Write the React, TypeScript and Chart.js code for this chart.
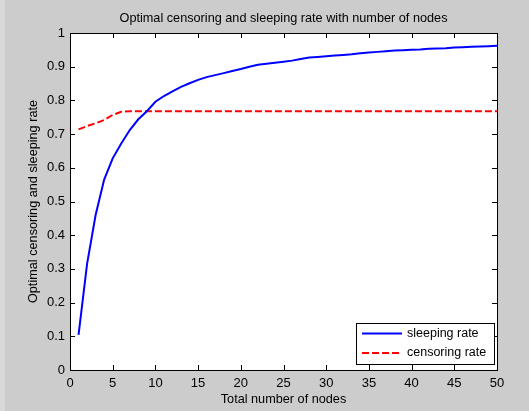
import React, { useEffect, useRef } from "react";
import { Chart, registerables } from "chart.js";

Chart.register(...registerables);

const nodes: number[] = Array.from({ length: 50 }, (_, i) => i + 1);

const sleepingRate: number[] = [
  0.104, 0.315, 0.46, 0.565, 0.628, 0.672, 0.712, 0.744, 0.768, 0.796,
  0.813, 0.827, 0.84, 0.851, 0.861, 0.869, 0.875, 0.881, 0.887, 0.893,
  0.9, 0.906, 0.909, 0.912, 0.915, 0.918, 0.923, 0.927, 0.929, 0.931,
  0.933, 0.935, 0.937, 0.94, 0.942, 0.944, 0.946, 0.948, 0.949, 0.95,
  0.951, 0.953, 0.954, 0.955, 0.957, 0.958, 0.959, 0.96, 0.961, 0.962,
];

const censoringRate: number[] = [
  0.714, 0.724, 0.732, 0.742, 0.757, 0.766, 0.768, 0.768, 0.768, 0.768,
  0.768, 0.768, 0.768, 0.768, 0.768, 0.768, 0.768, 0.768, 0.768, 0.768,
  0.768, 0.768, 0.768, 0.768, 0.768, 0.768, 0.768, 0.768, 0.768, 0.768,
  0.768, 0.768, 0.768, 0.768, 0.768, 0.768, 0.768, 0.768, 0.768, 0.768,
  0.768, 0.768, 0.768, 0.768, 0.768, 0.768, 0.768, 0.768, 0.768, 0.768,
];

const seriesLabels: string[] = ["sleeping rate", "censoring rate"];
const titleText = "Optimal censoring and sleeping rate with number of nodes";
const xTitle = "Total number of nodes";
const yTitle = "Optimal censoring and sleeping rate";

const FONT = "'Liberation Sans', Arial, sans-serif";

const matlabPlugin = {
  id: "matlabStyle",
  beforeDraw(chart: any) {
    const { ctx, width, height, chartArea } = chart;
    ctx.save();
    ctx.fillStyle = "#cccccc";
    ctx.fillRect(0, 0, width, height);
    ctx.fillStyle = "#d9d9d9";
    ctx.fillRect(0, 0, 5, height);
    ctx.fillStyle = "#ffffff";
    ctx.fillRect(chartArea.left, chartArea.top, chartArea.right - chartArea.left, chartArea.bottom - chartArea.top);
    ctx.restore();
  },
  afterDraw(chart: any) {
    const { ctx, chartArea } = chart;
    const { left, right, top, bottom } = chartArea;
    const xs = chart.scales.x;
    const ys = chart.scales.y;
    const tl = 5;
    ctx.save();
    // title centred over the axes
    ctx.fillStyle = "#000000";
    ctx.font = `12.7px ${FONT}`;
    ctx.textAlign = "center";
    ctx.textBaseline = "middle";
    ctx.fillText(titleText, (left + right) / 2, 18);

    ctx.strokeStyle = "#000000";
    ctx.lineWidth = 1;
    ctx.setLineDash([]);
    ctx.beginPath();
    xs.ticks.forEach((t: any) => {
      const px = Math.round(xs.getPixelForValue(t.value)) + 0.5;
      ctx.moveTo(px, bottom);
      ctx.lineTo(px, bottom - tl);
      ctx.moveTo(px, top);
      ctx.lineTo(px, top + tl);
    });
    ys.ticks.forEach((t: any) => {
      const py = Math.round(ys.getPixelForValue(t.value)) + 0.5;
      ctx.moveTo(left, py);
      ctx.lineTo(left + tl, py);
      ctx.moveTo(right, py);
      ctx.lineTo(right - tl, py);
    });
    ctx.stroke();
    ctx.strokeRect(Math.round(left) + 0.5, Math.round(top) + 0.5, Math.round(right - left), Math.round(bottom - top));

    // legend box inside axes (lower right)
    const bw = 138;
    const bh = 41;
    const bx = Math.round(right) - 3 - bw;
    const by = Math.round(bottom) - 6 - bh;
    ctx.fillStyle = "#ffffff";
    ctx.fillRect(bx, by, bw, bh);
    ctx.strokeStyle = "#000000";
    ctx.strokeRect(bx + 0.5, by + 0.5, bw, bh);
    ctx.font = `12.5px ${FONT}`;
    ctx.textBaseline = "middle";
    ctx.textAlign = "left";
    chart.data.datasets.forEach((ds: any, i: number) => {
      const ly = by + 10.5 + i * 19.5;
      ctx.strokeStyle = ds.borderColor;
      ctx.lineWidth = 2;
      ctx.setLineDash(ds.borderDash || []);
      ctx.beginPath();
      ctx.moveTo(bx + 6, ly);
      ctx.lineTo(bx + 46, ly);
      ctx.stroke();
      ctx.setLineDash([]);
      ctx.fillStyle = "#000000";
      ctx.fillText(ds.label, bx + 51, ly);
    });
    ctx.restore();
  },
};

export default function App() {
  const ref = useRef<HTMLCanvasElement | null>(null);
  useEffect(() => {
    if (!ref.current) return;
    Chart.defaults.font.family = FONT;
    Chart.defaults.color = "#000000";
    const chart = new Chart(ref.current, {
      type: "line",
      data: {
        datasets: [
          {
            label: seriesLabels[0],
            data: nodes.map((n, i) => ({ x: n, y: sleepingRate[i] })),
            borderColor: "#0000ff",
            borderWidth: 2,
            pointRadius: 0,
            tension: 0,
            fill: false,
          },
          {
            label: seriesLabels[1],
            data: nodes.map((n, i) => ({ x: n, y: censoringRate[i] })),
            borderColor: "#ff0000",
            borderWidth: 2,
            borderDash: [7, 3],
            pointRadius: 0,
            tension: 0,
            fill: false,
          },
        ],
      },
      options: {
        responsive: false,
        animation: false,
        layout: { padding: { left: 0, right: 32, top: 33, bottom: 0 } },
        plugins: {
          legend: { display: false },
          tooltip: { enabled: false },
          title: { display: false },
        },
        scales: {
          x: {
            type: "linear",
            min: 0,
            max: 50,
            ticks: { stepSize: 5, padding: 6, font: { size: 13 }, color: "#000000", maxRotation: 0 },
            grid: { display: false, drawTicks: false },
            border: { display: false },
            title: {
              display: true,
              text: xTitle,
              color: "#000000",
              font: { size: 12.7, lineHeight: 1.2 },
              padding: { top: 0, bottom: 4 },
            },
            afterFit: (s: any) => {
              s.height = 41;
            },
          },
          y: {
            type: "linear",
            min: 0,
            max: 1,
            ticks: {
              stepSize: 0.1,
              padding: 5,
              font: { size: 13 },
              color: "#000000",
              callback: (v: any) => String(Math.round(Number(v) * 10) / 10),
            },
            grid: { display: false, drawTicks: false },
            border: { display: false },
            title: {
              display: true,
              text: yTitle,
              color: "#000000",
              font: { size: 12.7, lineHeight: 1.2 },
              padding: { top: 26, bottom: 0 },
            },
            afterFit: (s: any) => {
              s.width = 70;
            },
          },
        },
      },
      plugins: [matlabPlugin],
    });
    return () => chart.destroy();
  }, []);
  return (
    <div style={{ position: "fixed", left: 0, top: 0, width: 529, height: 411 }}>
      <canvas ref={ref} width={529} height={411} style={{ display: "block", width: 529, height: 411 }} />
    </div>
  );
}
